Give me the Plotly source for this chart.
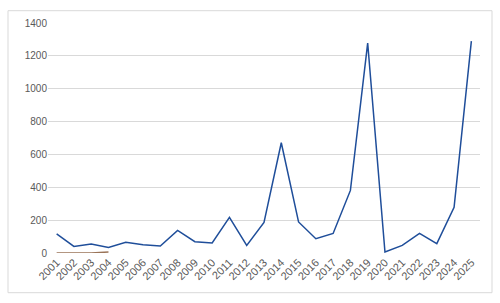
import plotly.graph_objects as go

years = [str(y) for y in range(2001, 2026)]
values = [116, 40, 55, 34, 65, 50, 43, 138, 69, 61, 217, 46, 186, 671,
          189, 87, 119, 381, 1278, 6, 46, 119, 57, 278, 1290]
years2 = ["2001", "2002", "2003", "2004"]
values2 = [0, 0, 0, 6]
y_ticks = [0, 200, 400, 600, 800, 1000, 1200, 1400]

fig = go.Figure()
fig.add_trace(go.Scatter(x=years2, y=values2, mode="lines",
                         line=dict(color="#9a7458", width=1.5), hoverinfo="skip"))
fig.add_trace(go.Scatter(x=years, y=values, mode="lines",
                         line=dict(color="#1f4e9a", width=1.5)))

L, R, T, B = 48, 20, 23, 50
pw, ph = 500 - L - R, 303 - T - B
fig.update_layout(
    width=500, height=303,
    margin=dict(l=L, r=R, t=T, b=B),
    paper_bgcolor="white", plot_bgcolor="white",
    showlegend=False,
    font=dict(family="Liberation Sans, Arial, sans-serif", size=10, color="#595959"),
    xaxis=dict(type="category", categoryorder="array", categoryarray=years,
               range=[-0.5, 24.5], tickangle=-45, showgrid=False,
               showline=False, zeroline=False, ticks="",
               tickfont=dict(size=11, color="#595959")),
    yaxis=dict(range=[0, 1400], tickvals=y_ticks, showgrid=True,
               gridcolor="#d9d9d9", gridwidth=1, zeroline=False,
               showline=False, ticks="", ticklen=0,
               tickfont=dict(size=10, color="#595959")),
    shapes=[dict(type="rect", xref="paper", yref="paper",
                 x0=(8 - L) / pw, x1=(492 - L) / pw,
                 y0=(253.3 - 293) / ph, y1=(253.3 - 11) / ph,
                 line=dict(color="#d9d9d9", width=1), layer="below")],
)
fig.write_html("out.html")
